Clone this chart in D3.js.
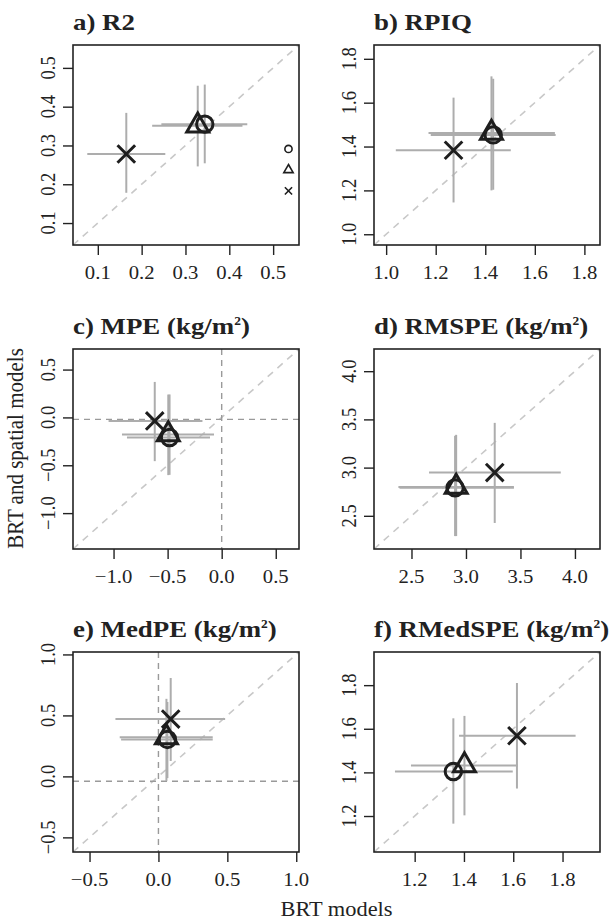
<!DOCTYPE html>
<html>
<head>
<meta charset="utf-8">
<script src="https://cdn.jsdelivr.net/npm/d3@7"></script>
<style>
  body { margin: 0; background: #fff; }
  text { font-family: "Liberation Serif", "Times New Roman", serif; fill: #222; }
</style>
</head>
<body>
<div id="chart"></div>
<script>
// Panel titles and axis ticks
const titles = ["a) R2", "b) RPIQ", "c) MPE (kg/m", "d) RMSPE (kg/m", "e) MedPE (kg/m", "f) RMedSPE (kg/m"];
const hasUnit = [false, false, true, true, true, true];
const domainLo = [0.0434, 0.951, -1.375, 2.156, -0.62, 1.035];
const domainHi = [0.559, 1.863, 0.715, 4.23, 1.02, 1.952];
const tickVals = [
  [0.1, 0.2, 0.3, 0.4, 0.5],
  [1.0, 1.2, 1.4, 1.6, 1.8],
  [-1.0, -0.5, 0.0, 0.5],
  [2.5, 3.0, 3.5, 4.0],
  [-0.5, 0.0, 0.5, 1.0],
  [1.2, 1.4, 1.6, 1.8]
];
// zero reference lines (null = none)
const refX = [null, null, 0, null, 0, null];
const refY = [null, null, -0.02, null, -0.04, null];

// Model estimates with intervals, one entry per panel
const circleX   = [0.344, 1.432, -0.482, 2.90, 0.065, 1.357];
const circleY   = [0.355, 1.453, -0.21, 2.79, 0.303, 1.404];
const circleXLo = [0.245, 1.180, -0.876, 2.39, -0.271, 1.12];
const circleXHi = [0.441, 1.684, -0.108, 3.44, 0.394, 1.598];
const circleYLo = [0.254, 1.203, -0.60, 2.29, -0.014, 1.165];
const circleYHi = [0.457, 1.709, 0.24, 3.33, 0.61, 1.648];

const triX   = [0.328, 1.425, -0.494, 2.91, 0.058, 1.402];
const triY   = [0.351, 1.462, -0.178, 2.80, 0.32, 1.432];
const triXLo = [0.224, 1.171, -0.922, 2.38, -0.281, 1.185];
const triXHi = [0.430, 1.681, -0.071, 3.44, 0.394, 1.618];
const triYLo = [0.246, 1.20, -0.603, 2.29, -0.039, 1.203];
const triYHi = [0.454, 1.72, 0.239, 3.34, 0.636, 1.659];

const crossX   = [0.165, 1.272, -0.619, 3.264, 0.089, 1.615];
const crossY   = [0.278, 1.383, -0.037, 2.949, 0.47, 1.568];
const crossXLo = [0.076, 1.039, -1.046, 2.661, -0.312, 1.380];
const crossXHi = [0.254, 1.503, -0.178, 3.870, 0.484, 1.853];
const crossYLo = [0.178, 1.145, -0.457, 2.426, 0.126, 1.326];
const crossYHi = [0.384, 1.623, 0.371, 3.464, 0.807, 1.81];

// little key in panel a
const legendShapes = ["circle", "triangle", "cross"];
const legendX = [0.535, 0.535, 0.535];
const legendY = [0.291, 0.237, 0.183];

const W = 612, H = 922;
const colLeft = [73, 374];
const rowTop = [45, 349, 652];
const boxW = 226, boxH = 200;
const sx = 1.12; // horizontal stretch of the glyphs

const svg = d3.select("#chart").append("svg")
  .attr("width", W).attr("height", H);

function markerPath(shape, s) {
  if (shape === "circle") {
    const p = d3.path();
    p.arc(0, 0, s, 0, 2 * Math.PI);
    return p.toString();
  }
  if (shape === "triangle") {
    const r = s * 1.35, xc = r * 0.866, yc = r * 0.5;
    return `M0,${-r}L${xc},${yc}L${-xc},${yc}Z`;
  }
  const h = s;
  return `M${-h},${-h}L${h},${h}M${-h},${h}L${h},${-h}`;
}

function hText(g, x, y, str, size, weight, anchor) {
  return g.append("text")
    .attr("transform", `translate(${x},${y}) scale(${sx},1)`)
    .attr("text-anchor", anchor || "middle")
    .style("font-size", size + "px")
    .style("font-weight", weight || "normal")
    .text(str);
}

function vText(g, x, y, str, size) {
  return g.append("text")
    .attr("transform", `translate(${x},${y}) scale(${sx},1) rotate(-90)`)
    .attr("text-anchor", "middle")
    .style("font-size", size + "px")
    .text(str);
}

const fmt = v => d3.format(".1f")(v).replace("-", "\u2212");

titles.forEach((title, i) => {
  const x0 = colLeft[i % 2], y0 = rowTop[Math.floor(i / 2)];
  const g = svg.append("g").attr("transform", `translate(${x0},${y0})`);

  const x = d3.scaleLinear().domain([domainLo[i], domainHi[i]]).range([0, boxW]);
  const y = d3.scaleLinear().domain([domainLo[i], domainHi[i]]).range([boxH, 0]);

  // 1:1 line
  g.append("line")
    .attr("x1", x(domainLo[i])).attr("y1", y(domainLo[i]))
    .attr("x2", x(domainHi[i])).attr("y2", y(domainHi[i]))
    .attr("stroke", "#c8c8c8").attr("stroke-width", 1.6)
    .attr("stroke-dasharray", "7,6");

  if (refX[i] !== null) {
    g.append("line")
      .attr("x1", x(refX[i])).attr("x2", x(refX[i]))
      .attr("y1", 0).attr("y2", boxH)
      .attr("stroke", "#9a9a9a").attr("stroke-width", 1.4)
      .attr("stroke-dasharray", "6,5");
  }
  if (refY[i] !== null) {
    g.append("line")
      .attr("y1", y(refY[i])).attr("y2", y(refY[i]))
      .attr("x1", 0).attr("x2", boxW)
      .attr("stroke", "#9a9a9a").attr("stroke-width", 1.4)
      .attr("stroke-dasharray", "6,5");
  }

  const pts = [
    { shape: "cross", cx: crossX[i], cy: crossY[i], xlo: crossXLo[i], xhi: crossXHi[i], ylo: crossYLo[i], yhi: crossYHi[i] },
    { shape: "triangle", cx: triX[i], cy: triY[i], xlo: triXLo[i], xhi: triXHi[i], ylo: triYLo[i], yhi: triYHi[i] },
    { shape: "circle", cx: circleX[i], cy: circleY[i], xlo: circleXLo[i], xhi: circleXHi[i], ylo: circleYLo[i], yhi: circleYHi[i] }
  ];

  // interval bars
  pts.forEach(d => {
    g.append("line")
      .attr("x1", x(d.xlo)).attr("x2", x(d.xhi))
      .attr("y1", y(d.cy)).attr("y2", y(d.cy))
      .attr("stroke", "#adadad").attr("stroke-width", 2);
    g.append("line")
      .attr("x1", x(d.cx)).attr("x2", x(d.cx))
      .attr("y1", y(d.ylo)).attr("y2", y(d.yhi))
      .attr("stroke", "#adadad").attr("stroke-width", 2);
  });

  // estimates
  g.selectAll(".pt")
    .data(pts)
    .enter().append("path")
    .attr("class", "pt")
    .attr("transform", d => `translate(${x(d.cx)},${y(d.cy)})`)
    .attr("d", d => markerPath(d.shape, d.shape === "circle" ? 8.2 : (d.shape === "triangle" ? 9.4 : 8.8)))
    .attr("fill", "none")
    .attr("stroke", "#1e1e1e")
    .attr("stroke-width", 3)
    .attr("stroke-linejoin", "miter");

  if (i === 0) {
    g.selectAll(".key")
      .data(legendShapes)
      .enter().append("path")
      .attr("transform", (d, k) => `translate(${x(legendX[k])},${y(legendY[k])})`)
      .attr("d", d => markerPath(d, d === "circle" ? 3.6 : (d === "triangle" ? 4 : 3.6)))
      .attr("fill", "none")
      .attr("stroke", "#1e1e1e")
      .attr("stroke-width", 1.6);
  }

  // box
  g.append("rect")
    .attr("width", boxW).attr("height", boxH)
    .attr("fill", "none").attr("stroke", "#222").attr("stroke-width", 1.6);

  // axes, R style
  const ticks = tickVals[i];
  const xa = g.append("g").attr("transform", `translate(0,${boxH})`)
    .call(d3.axisBottom(x).tickValues(ticks).tickSize(10).tickFormat(""));
  const ya = g.append("g")
    .call(d3.axisLeft(y).tickValues(ticks).tickSize(10).tickFormat(""));
  [xa, ya].forEach(a => {
    a.select(".domain").remove();
    a.selectAll(".tick line").attr("stroke", "#222").attr("stroke-width", 1.4);
  });
  ticks.forEach(t => {
    hText(g, x(t), boxH + 34, fmt(t), 18.5);
    vText(g, -18, y(t), fmt(t), 18.5);
  });

  // title
  const tt = hText(g, 0, -15, title, 24, "bold", "start");
  if (hasUnit[i]) {
    tt.append("tspan").attr("dy", -9).style("font-size", "12px").text("2");
    tt.append("tspan").attr("dy", 9).text(")");
  }
});

// outer axis titles
const plotCx = (colLeft[0] + colLeft[1] + boxW) / 2;
const plotCy = (rowTop[0] + rowTop[2] + boxH) / 2;
hText(svg, plotCx, 916, "BRT models", 20);
vText(svg, 23, plotCy, "BRT and spatial models", 21);
</script>
</body>
</html>
